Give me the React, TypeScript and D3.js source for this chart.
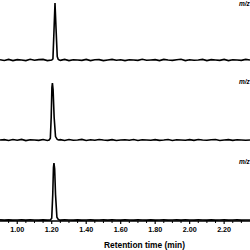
import React from "react";
import * as d3 from "d3";

const baseTimes = [
  0.900, 0.925, 0.950, 0.975, 1.000, 1.025, 1.050, 1.075, 1.100, 1.125,
  1.150, 1.175, 1.200, 1.225, 1.250, 1.275, 1.300, 1.325, 1.350, 1.375,
  1.400, 1.425, 1.450, 1.475, 1.500, 1.525, 1.550, 1.575, 1.600, 1.625,
  1.650, 1.675, 1.700, 1.725, 1.750, 1.775, 1.800, 1.825, 1.850, 1.875,
  1.900, 1.925, 1.950, 1.975, 2.000, 2.025, 2.050, 2.075, 2.100, 2.125,
  2.150, 2.175, 2.200, 2.225, 2.250, 2.275, 2.300, 2.325, 2.350,
];

const noise1 = [
  0.4, -0.8, 1.0, -1.0, 0.6, 0.0, -1.0, 1.2, -0.5, 0.6,
  1.0, -1.0, 0.0, 0.5, -0.6, 1.0, -1.0, 0.5, 0.0, -0.6,
  1.0, -1.0, 0.5, 0.6, -1.0, 0.0, 1.0, -0.5, 0.5, -1.0,
  0.5, 0.0, -0.6, 1.2, -0.5, 0.0, 0.6, -1.0, 1.0, 0.0,
  -0.6, 0.5, 1.2, -1.0, 0.5, -0.5, 0.0, 1.0, -1.0, 0.6,
  0.0, -0.6, 1.0, -1.0, 0.5, 0.0, -0.6, 1.0, 0.0,
];

const noise2 = [
  0.0, 0.6, -0.8, 0.8, -0.5, 1.0, -1.0, 0.5, 0.0, -0.6,
  0.8, -0.8, 0.0, 0.5, 0.6, -0.8, 0.8, -0.5, 0.0, 1.0,
  -0.8, 0.5, -0.5, 0.8, 0.0, -0.6, 0.6, -0.8, 0.0, 0.5,
  -0.5, 0.8, -0.8, 0.5, 0.0, -0.5, 0.6, -0.6, 0.0, 0.8,
  -0.8, 0.5, 0.0, -0.5, 0.6, -0.6, 0.8, 0.0, -0.5, 0.5,
  0.8, -0.8, 0.0, 0.6, -0.6, 0.5, 0.0, -0.5, 0.0,
];

const noise3 = [
  0.2, -0.2, 0.3, -0.2, 0.0, 0.2, -0.3, 0.2, 0.0, -0.2,
  0.3, -0.2, 0.0, 0.2, -0.2, 0.2, 0.0, -0.2, 0.3, -0.2,
  0.0, 0.2, -0.2, 0.0, 0.3, -0.2, 0.2, 0.0, -0.3, 0.2,
  0.0, -0.2, 0.2, 0.0, -0.2, 0.3, -0.2, 0.0, 0.2, -0.2,
  0.0, 0.2, -0.3, 0.2, 0.0, -0.2, 0.2, 0.0, -0.2, 0.3,
  -0.2, 0.0, 0.2, -0.2, 0.0, 0.2, -0.2, 0.0, 0.0,
];

const peak1T = [1.200, 1.207, 1.213, 1.219, 1.225, 1.232, 1.238, 1.245];
const peak1V = [0, 2, 50, 100, 55, 6, 1, 0];
const peak2T = [1.185, 1.192, 1.197, 1.201, 1.204, 1.208, 1.214, 1.222, 1.232, 1.240];
const peak2V = [0, 3, 40, 92, 100, 88, 40, 6, 1, 0];
const peak3T = [1.192, 1.200, 1.206, 1.210, 1.213, 1.217, 1.222, 1.230, 1.238, 1.245];
const peak3V = [0, 3, 45, 92, 100, 90, 45, 5, 1, 0];

const panelLabels = ["m/z", "m/z", "m/z"];
const majorTicks = [1.0, 1.2, 1.4, 1.6, 1.8, 2.0, 2.2];
const minorTicks = [
  0.95, 1.05, 1.1, 1.15, 1.25, 1.3, 1.35, 1.45, 1.5, 1.55, 1.65, 1.7, 1.75,
  1.85, 1.9, 1.95, 2.05, 2.1, 2.15, 2.25, 2.3,
];
const xTitle = "Retention time (min)";

type Pt = [number, number];

function buildTrace(noise: number[], pT: number[], pV: number[]): Pt[] {
  const start = pT[0];
  const end = pT[pT.length - 1];
  const pts: Pt[] = [];
  baseTimes.forEach((t, i) => {
    if (t < start || t > end) pts.push([t, noise[i] ?? 0]);
  });
  pT.forEach((t, i) => pts.push([t, pV[i]]));
  pts.sort((a, b) => a[0] - b[0]);
  return pts;
}

const traces = [
  buildTrace(noise1, peak1T, peak1V),
  buildTrace(noise2, peak2T, peak2V),
  buildTrace(noise3, peak3T, peak3V),
];

export default function App() {
  const W = 250;
  const H = 250;
  const x = d3.scaleLinear().domain([0.9, 2.35]).range([0, W]);
  const panels = [
    { base: 60, top: 3, labelY: 6 },
    { base: 140, top: 83, labelY: 84 },
    { base: 220, top: 163, labelY: 164 },
  ];
  const axisY = 221;
  const font = "'Liberation Sans', Arial, sans-serif";

  return (
    <svg
      width={W}
      height={H}
      style={{ position: "absolute", left: 0, top: 0, background: "#fff" }}
    >
      <rect width={W} height={H} fill="#fff" />
      {traces.map((tr, i) => {
        const p = panels[i];
        const y = d3.scaleLinear().domain([0, 100]).range([p.base, p.top]);
        const line = d3
          .line<Pt>()
          .x((d) => x(d[0]))
          .y((d) => y(d[1]));
        return (
          <g key={i}>
            <path
              d={line(tr) || ""}
              fill="none"
              stroke="#000"
              strokeWidth={1.6}
              strokeLinejoin="miter"
            />
            <text
              x={239}
              y={p.labelY}
              fontFamily={font}
              fontSize={6.5}
              fontWeight="bold"
              fontStyle="italic"
              fill="#000"
            >
              {panelLabels[i]}
            </text>
          </g>
        );
      })}
      <line x1={0} x2={W} y1={axisY} y2={axisY} stroke="#000" strokeWidth={1.6} />
      {minorTicks.map((t) => (
        <line
          key={"m" + t}
          x1={x(t)}
          x2={x(t)}
          y1={axisY}
          y2={axisY + 2}
          stroke="#000"
          strokeWidth={1}
        />
      ))}
      {majorTicks.map((t) => (
        <g key={"M" + t}>
          <line
            x1={x(t)}
            x2={x(t)}
            y1={axisY}
            y2={axisY + 3}
            stroke="#000"
            strokeWidth={1.2}
          />
          <text
            x={x(t)}
            y={232}
            textAnchor="middle"
            fontFamily={font}
            fontSize={7.2}
            fontWeight="bold"
            fill="#000"
          >
            {t.toFixed(2)}
          </text>
        </g>
      ))}
      <text
        x={144.5}
        y={248}
        textAnchor="middle"
        fontFamily={font}
        fontSize={8.4}
        fontWeight="bold"
        fill="#000"
      >
        {xTitle}
      </text>
    </svg>
  );
}
